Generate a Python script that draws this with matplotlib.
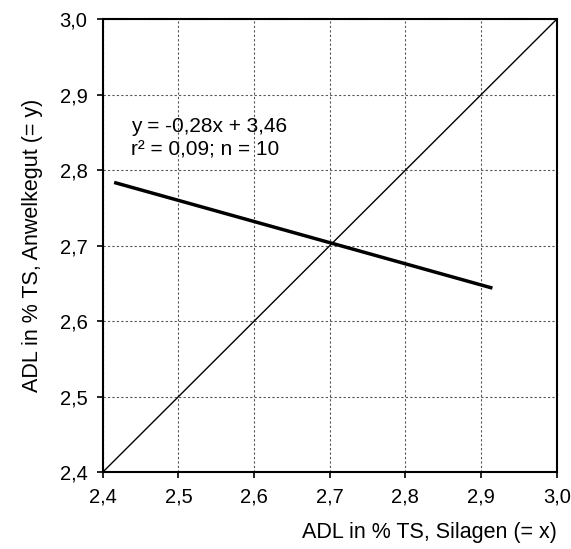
import matplotlib
matplotlib.use("Agg")
import matplotlib.pyplot as plt
import numpy as np

plt.rcParams['font.family'] = ['Liberation Sans', 'DejaVu Sans']

ticks = [2.4, 2.5, 2.6, 2.7, 2.8, 2.9, 3.0]
tick_labels = ["2,4", "2,5", "2,6", "2,7", "2,8", "2,9", "3,0"]
slope = -0.28
intercept = 3.46
x_range = [2.415, 2.915]
identity = [2.4, 3.0]
equation_lines = ["y = -0,28x + 3,46", "r² = 0,09; n = 10"]
xlabel = "ADL in % TS, Silagen (= x)"
ylabel = "ADL in % TS, Anwelkegut (= y)"

fig = plt.figure(figsize=(5.71, 5.49), dpi=100)
ax = fig.add_axes([0.180, 0.140, 0.795, 0.825])

ax.plot(identity, identity, color='black', lw=1.0)
xr = np.array(x_range)
ax.plot(xr, slope * xr + intercept, color='black', lw=2.5, solid_capstyle='butt')

ax.set_xlim(2.4, 3.0)
ax.set_ylim(2.4, 3.0)
ax.set_xticks(ticks)
ax.set_xticklabels(tick_labels)
ax.set_yticks(ticks)
ax.set_yticklabels(tick_labels)
ax.grid(True, color='#555555', linestyle=(0, (2, 2)), lw=0.8)
ax.set_axisbelow(True)
for s in ax.spines.values():
    s.set_linewidth(1.5)
ax.tick_params(direction='out', length=4, width=1.2, labelsize=14.5, pad=7)

ax.text(2.437, 2.850, equation_lines[0], fontsize=15, va='baseline', ha='left')
ax.text(2.437, 2.819, equation_lines[1], fontsize=15, va='baseline', ha='left')
ax.set_xlabel(xlabel, fontsize=15.5, loc='right', labelpad=11)
ax.set_ylabel(ylabel, fontsize=15.5, loc='center', labelpad=12)

fig.savefig("out.png", dpi=100)
